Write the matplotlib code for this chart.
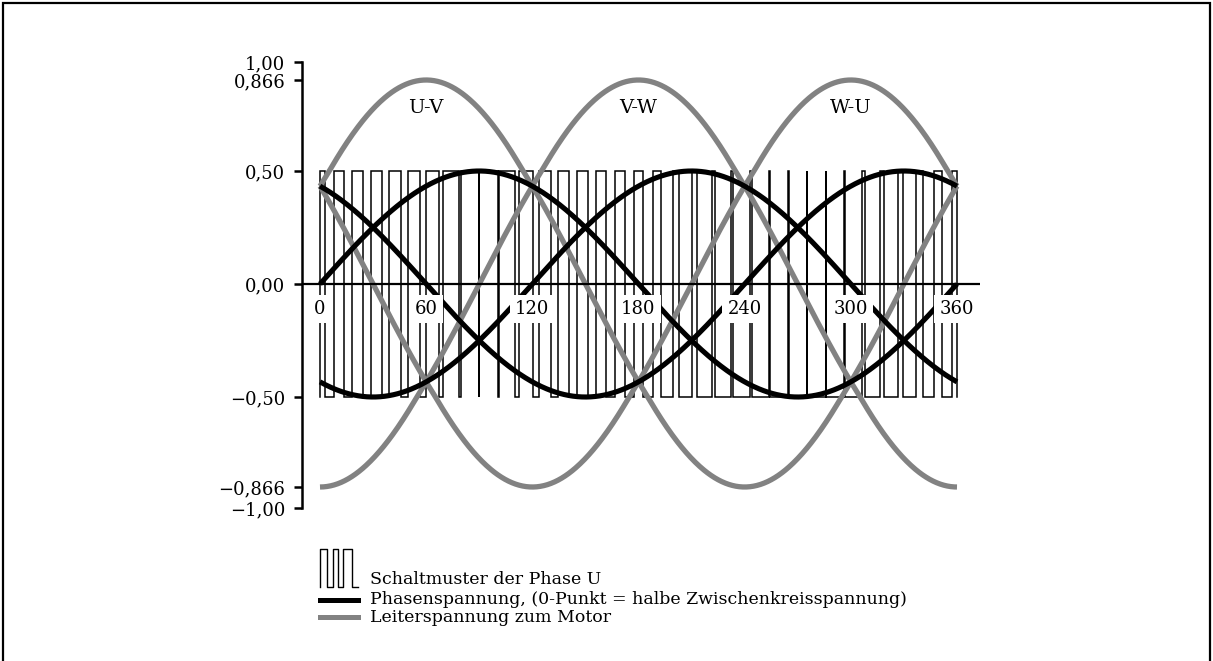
import numpy as np
import matplotlib.pyplot as plt
from matplotlib.patches import Rectangle
from matplotlib.lines import Line2D

plt.rcParams['font.family'] = 'DejaVu Serif'

# phase voltages (black) and line voltages (grey), angles in degrees
phase_amplitude = 0.5
phase_shift = [0, -120, 120]          # U, V, W
line_amplitude = 0.866
line_shift = [30, -90, 150]           # U-V, V-W, W-U
line_names = ["U-V", "V-W", "W-U"]
line_peak = [60, 180, 300]

# switching pattern of phase U: centre and width of every "on" pulse (degrees)
pulse_centre = [0.0, 10.6, 21.2, 31.8, 42.4, 52.9, 63.5, 74.1, 84.7, 95.3,
                105.9, 116.5, 127.1, 137.6, 148.2, 158.8, 169.4, 180.0, 190.6, 201.2,
                211.8, 222.4, 232.9, 243.5, 254.1, 264.7, 275.3, 285.9, 296.5, 307.1,
                317.6, 328.2, 338.8, 349.4, 360.0]
pulse_width = [5.3, 5.8, 6.0, 6.2, 6.4, 6.8, 7.6, 9.0, 10.4, 10.4,
               9.0, 7.6, 6.8, 6.4, 6.2, 6.0, 5.8, 5.3, 4.4, 3.6,
               2.8, 2.0, 1.3, 0.8, 0.4, 0.2, 0.2, 0.4, 0.8, 1.3,
               2.0, 2.8, 3.6, 4.4, 5.3]

x_ticks = [0, 60, 120, 180, 240, 300, 360]
y_ticks = [-1.0, -0.866, -0.5, 0.0, 0.5, 0.866, 1.0]
y_labels = ["\u22121,00", "\u22120,866", "\u22120,50", "0,00", "0,50", "0,866", "1,00"]

# drawn distance of each y tick from the zero line (the axis is not to scale)
y_breaks = [-224, -203, -113, 0, 113, 204, 222]

W, H = 1213, 661
fig = plt.figure(figsize=(W / 100, H / 100), dpi=100)
ax_top, ax_bottom = 284 - y_breaks[-1], 284 - y_breaks[0]
ax = fig.add_axes([302 / W, (H - ax_bottom) / H, 678 / W, (ax_bottom - ax_top) / H])


def fwd(v):
    return np.interp(v, y_ticks, y_breaks)


def inv(v):
    return np.interp(v, y_breaks, y_ticks)


ax.set_yscale('function', functions=(fwd, inv))
ax.set_xlim(-10.17, 373.0)
ax.set_ylim(-1.0, 1.0)

angle = np.linspace(0, 360, 721)

# PWM step outline
xs, ys = [], []
for c, w in zip(pulse_centre, pulse_width):
    a, b = max(c - w / 2, 0), min(c + w / 2, 360)
    xs += [a, a, b, b]
    ys += [-0.5, 0.5, 0.5, -0.5]
ax.plot(xs, ys, color='black', lw=1.1, zorder=2, solid_joinstyle='miter')

for s in line_shift:
    ax.plot(angle, line_amplitude * np.sin(np.radians(angle + s)),
            color='#828282', lw=3.8, zorder=3, solid_capstyle='butt')

for s in phase_shift:
    ax.plot(angle, phase_amplitude * np.sin(np.radians(angle + s)),
            color='black', lw=3.7, zorder=4, solid_capstyle='butt')

for name, xp in zip(line_names, line_peak):
    ax.text(xp, 0.753, name, ha='center', va='center', fontsize=14, zorder=6)

# x axis line and labels in white boxes
ax.axhline(0, color='black', lw=1.6, zorder=5)
for xv in x_ticks:
    ax.annotate(str(xv), (xv, 0), xytext=(0, -18), textcoords='offset points',
                ha='center', va='center', fontsize=13, zorder=7,
                bbox=dict(boxstyle='square,pad=0.3', fc='white', ec='none'))

for side in ['top', 'right', 'bottom']:
    ax.spines[side].set_visible(False)
ax.spines['left'].set_linewidth(1.8)
ax.set_xticks([])
ax.set_yticks(y_ticks)
ax.set_yticklabels(y_labels, fontsize=13)
ax.tick_params(axis='y', direction='out', length=6, width=1.8, pad=6)
ax.set_facecolor('none')


# legend drawn by hand below the chart
def fx(px):
    return px / W


def fy(py):
    return 1 - py / H


icon_x = [320, 320, 326.7, 326.7, 332.7, 332.7, 338.3, 338.3, 343.3, 343.3, 351.7, 351.7, 358]
icon_y = [587, 549, 549, 587, 587, 549, 549, 587, 587, 549, 549, 587, 587]
fig.add_artist(Line2D([fx(p) for p in icon_x], [fy(p) for p in icon_y],
                      color='black', lw=1.0, transform=fig.transFigure))
fig.add_artist(Line2D([fx(320), fx(358)], [fy(600), fy(600)],
                      color='black', lw=3.6, transform=fig.transFigure))
fig.add_artist(Line2D([fx(320), fx(358)], [fy(617), fy(617)],
                      color='#828282', lw=3.6, transform=fig.transFigure))

legend_texts = ["Schaltmuster der Phase U",
                "Phasenspannung, (0-Punkt = halbe Zwischenkreisspannung)",
                "Leiterspannung zum Motor"]
for txt, py in zip(legend_texts, [579, 600, 617]):
    fig.text(fx(370), fy(py), txt, ha='left', va='center', fontsize=12.5)

# outer frame
fig.add_artist(Rectangle((fx(3), -0.05), fx(1207), fy(3) + 0.05, fill=False,
                         ec='black', lw=1.6, transform=fig.transFigure))

fig.savefig('out.png', dpi=100, facecolor='white')
